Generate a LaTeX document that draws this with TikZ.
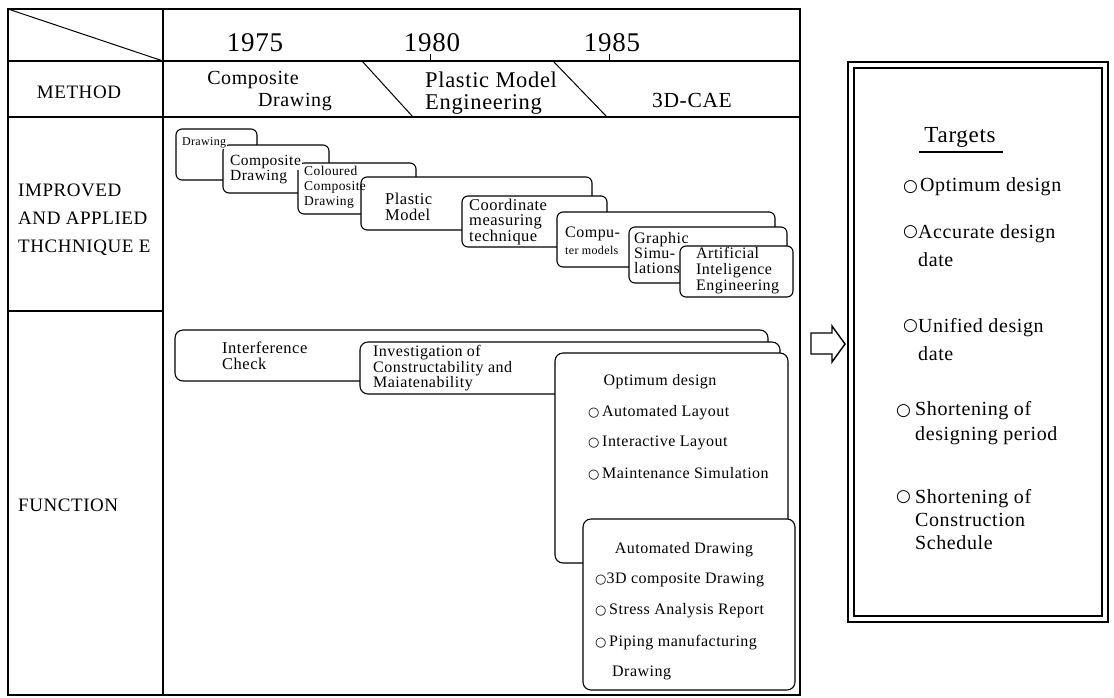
\documentclass[tikz,border=0pt]{standalone}
\usepackage{fontspec}
\setmainfont{Liberation Serif}[LetterSpace=3]
\newfontfamily\symfont{DejaVu Sans}
\newcommand{\fs}[2]{\fontsize{#1}{#2}\selectfont}
\newcommand{\tcirc}[1]{{\symfont\fontsize{#1}{#1}\selectfont ○}}
\begin{document}
\begin{tikzpicture}[x=1pt,y=-1pt,
  frame/.style={line width=1.6pt},
  rule/.style={line width=1.2pt},
  tb/.style={draw, line width=1.1pt, rounded corners=6pt, fill=white},
  fb/.style={draw, line width=1.1pt, rounded corners=8pt, fill=white},
  lbl/.style={inner sep=0pt, align=left},
  wlbl/.style={inner sep=0.8pt, align=left, fill=white},
]
\useasboundingbox (0,0) rectangle (1114,697);
% ---------------- table frame
\draw[frame] (8,9) rectangle (800,695);
\draw[frame] (163,9) -- (163,695);
\draw[rule] (8,61) -- (800,61);
\draw[rule] (8,117) -- (800,117);
\draw[rule] (8,311) -- (163,311);
\draw[line width=1pt] (8,9) -- (163,61);
\draw[line width=1pt] (430,54) -- (430,61);
\draw[line width=1pt] (609,54) -- (609,61);
\draw[line width=1pt] (362,61) -- (413,117);
\draw[line width=1pt] (553,61) -- (607,117);
% ---------------- years
\node[lbl, font=\fs{27}{27}] (y75) at (255,43) {1975};
\node[lbl, font=\fs{27}{27}] (y80) at (432,43) {1980};
\node[lbl, font=\fs{27}{27}] (y85) at (612,43) {1985};
% ---------------- row labels
\node[lbl, font=\fs{19}{19}] (method) at (79,92) {METHOD};
\node[lbl, font=\fs{19}{28}, anchor=west] (improved) at (18,220) {IMPROVED\\AND APPLIED\\THCHNIQUE E};
\node[lbl, font=\fs{19}{19}, anchor=west] (function) at (18,505) {FUNCTION};
% ---------------- methods
\node[lbl, font=\fs{20}{20}] (m1a) at (253,80) {Composite};
\node[lbl, font=\fs{20}{20}] (m1b) at (295,102) {Drawing};
\node[lbl, font=\fs{22.5}{22}, anchor=west] (m2) at (425,93) {Plastic Model\\Engineering};
\node[lbl, font=\fs{21.5}{21}] (m3) at (692,100) {3D-CAE};
% ---------------- technique boxes
\path[tb] (176,129) rectangle (257,180);
\path[tb] (223,145) rectangle (329,193);
\path[tb] (298,163) rectangle (416,214);
\path[tb] (361,177) rectangle (592,230);
\path[tb] (462,196) rectangle (607,247);
\path[tb] (557,212) rectangle (775,267);
\path[tb] (629,227) rectangle (787,283);
\path[tb] (680,246) rectangle (793,297);
\node[wlbl, font=\fs{12}{12}, anchor=west] (t1) at (181,143) {Drawing};
\node[wlbl, font=\fs{15.5}{16}, anchor=west] (t2a) at (229,162) {Composite};
\node[lbl, font=\fs{15.5}{16}, anchor=west] (t2b) at (230,177) {Drawing};
\node[lbl, font=\fs{13.5}{15}, anchor=west] (t3) at (304,187) {Coloured\\Composite\\Drawing};
\node[lbl, font=\fs{16.5}{16}, anchor=west] (t4) at (385,207) {Plastic\\Model};
\node[lbl, font=\fs{16.5}{15}, anchor=west] (t5) at (469,222) {Coordinate\\measuring\\technique};
\node[lbl, font=\fs{16}{15}, anchor=west] (t6a) at (565,234) {Compu-};
\node[lbl, font=\fs{12}{12}, anchor=west] (t6b) at (565,250) {ter models};
\node[lbl, font=\fs{16}{15}, anchor=west] (t7) at (634,253) {Graphic\\Simu-\\lations};
\node[lbl, font=\fs{16}{16}, anchor=west] (t8) at (696,271) {Artificial\\Inteligence\\Engineering};
% ---------------- function boxes
\path[fb] (175,330) rectangle (768,381);
\path[fb] (360,342) rectangle (780,394);
\path[fb] (555,353) rectangle (788,563);
\path[fb] (583,519) rectangle (795,690);
\node[lbl, font=\fs{16.5}{16}, anchor=west] (f1) at (222,356) {Interference\\Check};
\node[lbl, font=\fs{16}{15.5}, anchor=west] (f2) at (373,368.5) {Investigation of\\Constructability and\\Maiatenability};
\node[lbl, font=\fs{16}{16}] (f3) at (660,382) {Optimum design};
\node[lbl, font=\fs{16}{16}, anchor=west] (f3a) at (588,413) {\tcirc{13}\,Automated Layout};
\node[lbl, font=\fs{16}{16}, anchor=west] (f3b) at (588,443) {\tcirc{13}\,Interactive Layout};
\node[lbl, font=\fs{16}{16}, anchor=west] (f3c) at (588,474) {\tcirc{13}\,Maintenance Simulation};
\node[lbl, font=\fs{16}{16}] (f4) at (684,550) {Automated Drawing};
\node[lbl, font=\fs{16}{16}, anchor=west] (f4a) at (595,580) {\tcirc{13}3D composite Drawing};
\node[lbl, font=\fs{16}{16}, anchor=west] (f4b) at (595,611) {\tcirc{13}\,Stress Analysis Report};
\node[lbl, font=\fs{16}{16}, anchor=west] (f4c) at (595,643) {\tcirc{13}\,Piping manufacturing};
\node[lbl, font=\fs{16}{16}, anchor=west] (f4d) at (612,673) {Drawing};
% ---------------- arrow
\draw[line width=1.4pt, line join=miter] (811,333) -- (832,333) -- (832,326) -- (845,344) -- (832,362) -- (832,354) -- (811,354) -- cycle;
% ---------------- targets
\draw[line width=1.8pt] (848,62) rectangle (1108,622);
\draw[line width=1.2pt] (854,68) rectangle (1102,616);
\node[lbl, font=\fs{23}{23}] (tg) at (960,137) {Targets};
\draw[line width=1.2pt] (919,152) -- (1003,152);
\node[lbl, anchor=west] (c1) at (903,187) {\tcirc{17}};
\node[lbl, font=\fs{20}{20}, anchor=west] (g1) at (920,187) {Optimum design};
\node[lbl, anchor=west] (c2) at (903,232) {\tcirc{17}};
\node[lbl, font=\fs{20}{28}, anchor=west] (g2) at (918,246) {Accurate design\\date};
\node[lbl, anchor=west] (c3) at (903,326) {\tcirc{17}};
\node[lbl, font=\fs{20}{28}, anchor=west] (g3) at (918,340) {Unified design\\date};
\node[lbl, anchor=west] (c4) at (896,411) {\tcirc{17}};
\node[lbl, font=\fs{20}{25}, anchor=west] (g4) at (915,423.5) {Shortening of\\designing period};
\node[lbl, anchor=west] (c5) at (896,497) {\tcirc{17}};
\node[lbl, font=\fs{20}{23}, anchor=west] (g5) at (915,520) {Shortening of\\Construction\\Schedule};
\end{tikzpicture}
\end{document}
